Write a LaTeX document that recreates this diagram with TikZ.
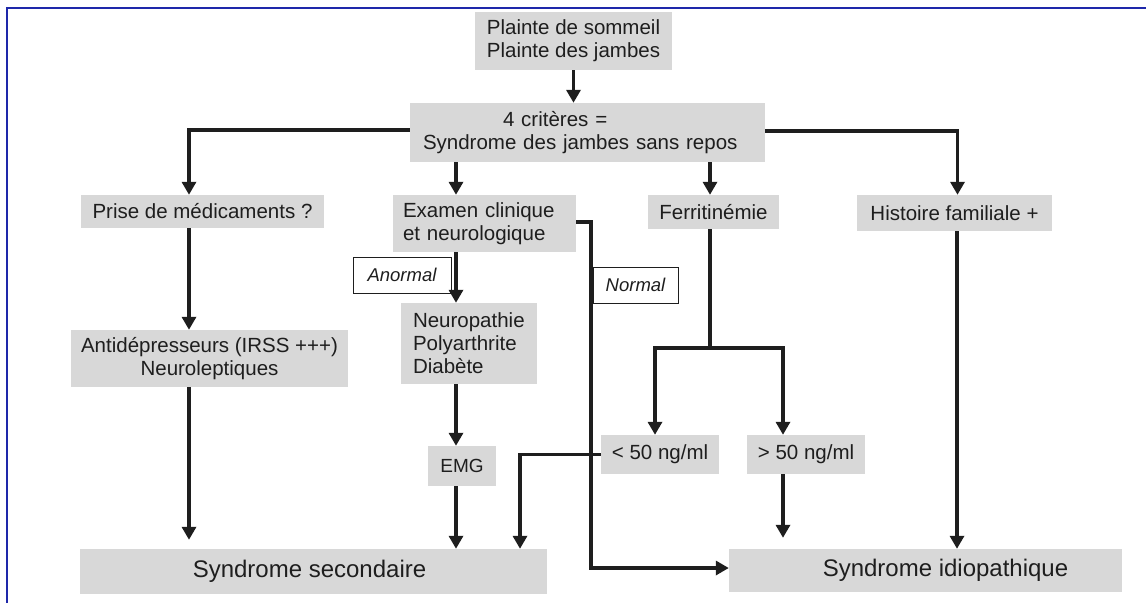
\documentclass[tikz,border=0pt]{standalone}
\usepackage{fontspec}
\setmainfont{Liberation Sans}
\usetikzlibrary{arrows.meta}
\definecolor{frameblue}{RGB}{30,40,170}
\definecolor{boxgray}{RGB}{216,216,216}
\definecolor{ink}{RGB}{30,30,30}
\tikzset{
  box/.style={fill=boxgray, inner sep=0pt, font=\fontsize{20.5}{23}\selectfont, text=ink},
  bigbox/.style={box, font=\fontsize{24}{27}\selectfont},
  lab/.style={draw=ink, line width=1pt, fill=white, inner sep=0pt, font=\fontsize{18.5}{22}\selectfont\itshape, text=ink},
  arr/.style={line width=3.6pt, draw=ink, -{Triangle[length=13pt,width=14pt]}},
  ln/.style={line width=3.6pt, draw=ink},
}
\begin{document}
\begin{tikzpicture}[x=1pt,y=-1pt]
\useasboundingbox (0,0) rectangle (1146,603);
% frame (top and left edges)
\coordinate (ftr) at (1146,8);
\coordinate (ftl) at (7,8);
\coordinate (fbl) at (7,603);
\draw[frameblue, line width=2.5pt] (ftr) -- (ftl) -- (fbl);

% nodes
\node[box, minimum width=197pt, minimum height=58pt, align=center] (plainte) at (573.5,41) {Plainte de sommeil\\Plainte des jambes};
\node[box, minimum height=59pt, inner xsep=13pt, text width=329pt, align=left] (crit) at (587.5,132.5) {\hspace*{80pt}4 critères =\\Syndrome des jambes sans repos};
\node[box, minimum width=243pt, minimum height=33pt] (prise) at (202.5,211.5) {Prise de médicaments ?};
\node[box, minimum height=57pt, inner xsep=10pt, text width=163pt, align=left] (exam) at (484.5,223.5) {Examen clinique\\et neurologique};
\node[box, minimum width=131pt, minimum height=34pt] (ferr) at (713.5,212) {Ferritinémie};
\node[box, minimum width=195pt, minimum height=36pt] (hist) at (954.5,213) {Histoire familiale +};
\node[box, minimum width=277pt, minimum height=57pt, align=center] (antid) at (209.5,358.5) {Antidépresseurs (IRSS +++)\\Neuroleptiques};
\node[box, minimum height=81pt, inner xsep=12pt, text width=112pt, align=left] (neuro) at (469,343.5) {Neuropathie\\Polyarthrite\\Diabète};
\node[box, minimum width=68pt, minimum height=40pt, font=\fontsize{19}{22}\selectfont] (emg) at (462,466) {EMG};
\node[box, minimum width=118pt, minimum height=39pt] (lt50) at (660,454.5) {< 50 ng/ml};
\node[box, minimum width=118pt, minimum height=39pt] (gt50) at (806,454.5) {> 50 ng/ml};
\node[bigbox, minimum width=467pt, minimum height=45pt] (sec) at (313.5,571.5) {\hspace*{-8pt}Syndrome secondaire};
\node[bigbox, minimum width=393pt, minimum height=43pt] (idio) at (925.5,570.5) {\hspace*{40pt}Syndrome idiopathique};
\node[lab, minimum width=98pt, minimum height=36pt] (anormal) at (402,275) {Anormal};
\node[lab, minimum width=85pt, minimum height=36pt] (normal) at (635.5,285) {Normal};

% connectors
\draw[arr] (plainte.south) -- (plainte.south |- crit.north);
\draw[arr] ([yshift=2.5pt]crit.west) -| ([xshift=-13.5pt]prise.north);
\draw[arr] ([yshift=1.5pt]crit.east) -| ([xshift=3pt]hist.north);
\draw[arr] ([xshift=-28.5pt]exam.north |- crit.south) -- ([xshift=-28.5pt]exam.north);
\draw[arr] ([xshift=-3.5pt]ferr.north |- crit.south) -- ([xshift=-3.5pt]ferr.north);

\draw[arr] ([xshift=-13.5pt]prise.south) -- ([xshift=-13.5pt]prise.south |- antid.north);
\draw[arr, shorten >=9pt] ([xshift=-13.5pt]prise.south |- antid.south) -- ([xshift=-13.5pt]prise.south |- sec.north);

\draw[arr] ([xshift=-13pt]neuro.north |- exam.south) -- ([xshift=-13pt]neuro.north);
\draw[arr] ([xshift=-6pt]emg.north |- neuro.south) -- ([xshift=-6pt]emg.north);
\draw[arr] ([xshift=-6pt]emg.south) -- ([xshift=-6pt]emg.south |- sec.north);

\draw[arr] ([yshift=1.5pt]exam.east) -- ++(15,0) |- ([yshift=2.5pt]idio.west);

\coordinate (fsplit) at ([xshift=-3.5pt]ferr.south |- 0,348);
\draw[ln] ([xshift=-3.5pt]ferr.south) -- (fsplit);
\draw[arr] (fsplit) -| ([xshift=-5pt]lt50.north);
\draw[arr] (fsplit) -| ([xshift=-23pt]gt50.north);

\draw[arr, shorten >=11pt] ([xshift=-23pt]gt50.south) -- ([xshift=-23pt]gt50.south |- idio.north);
\draw[arr] ([xshift=2.5pt]hist.south) -- ([xshift=2.5pt]hist.south |- idio.north);

\draw[arr] (lt50.west) -| ([xshift=206.5pt]sec.north);
\end{tikzpicture}
\end{document}
